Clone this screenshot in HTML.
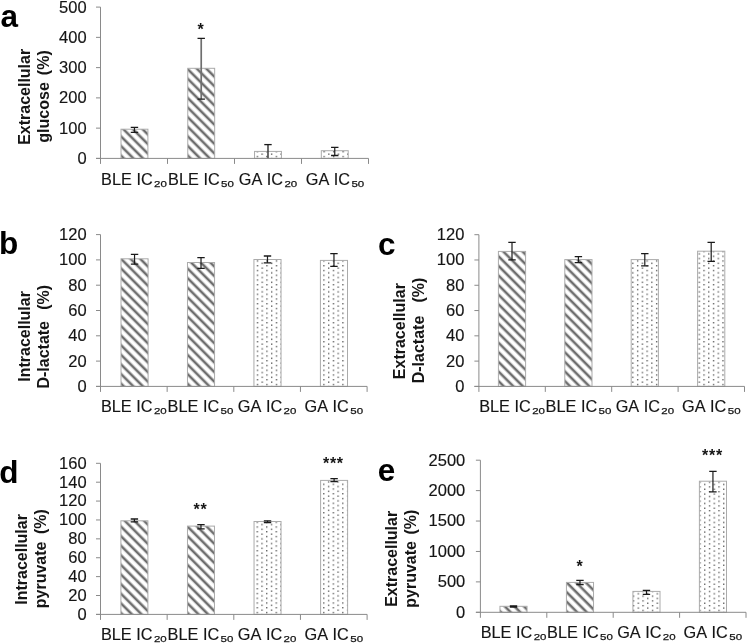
<!DOCTYPE html>
<html><head><meta charset="utf-8"><style>
html,body{margin:0;padding:0;background:#fff;width:747px;height:643px;overflow:hidden}
svg{display:block;filter:blur(0.3px)}
text{font-family:"Liberation Sans",sans-serif;fill:#151515;font-kerning:none}
.t{font-size:16.3px;stroke:#151515;stroke-width:0.15px}
.tl{font-size:16.5px;stroke:#151515;stroke-width:0.15px}
.sub{font-size:9.8px;stroke:#151515;stroke-width:0.25px}
.an{font-size:16px;font-weight:bold;letter-spacing:0.7px}
.yl{font-size:16px;font-weight:bold}
.pl{font-size:31.5px;font-weight:bold;fill:#000}
</style></head><body>
<svg width="747" height="643" viewBox="0 0 747 643">
<defs>
<pattern id="ha0" patternUnits="userSpaceOnUse" width="6.788" height="6.788" patternTransform="translate(121,158.4) rotate(-45)"><rect x="0.68" y="-1" width="2.6" height="8.788" fill="#6e6e6e"/><rect x="7.47" y="-1" width="2.6" height="8.788" fill="#6e6e6e"/><rect x="-6.11" y="-1" width="2.6" height="8.788" fill="#6e6e6e"/></pattern>
<pattern id="ha1" patternUnits="userSpaceOnUse" width="6.788" height="6.788" patternTransform="translate(187.77,158.4) rotate(-45)"><rect x="0.68" y="-1" width="2.6" height="8.788" fill="#6e6e6e"/><rect x="7.47" y="-1" width="2.6" height="8.788" fill="#6e6e6e"/><rect x="-6.11" y="-1" width="2.6" height="8.788" fill="#6e6e6e"/></pattern>
<pattern id="da2" patternUnits="userSpaceOnUse" width="9.5" height="4.75" patternTransform="translate(256.66,155.82)"><rect x="0" y="0" width="1.35" height="1.35" fill="#5a5a5a"/><rect x="4.75" y="-2.38" width="1.35" height="1.35" fill="#5a5a5a"/><rect x="4.75" y="2.38" width="1.35" height="1.35" fill="#5a5a5a"/></pattern>
<pattern id="da3" patternUnits="userSpaceOnUse" width="9.5" height="4.75" patternTransform="translate(323.44,155.82)"><rect x="0" y="0" width="1.35" height="1.35" fill="#5a5a5a"/><rect x="4.75" y="-2.38" width="1.35" height="1.35" fill="#5a5a5a"/><rect x="4.75" y="2.38" width="1.35" height="1.35" fill="#5a5a5a"/></pattern>
<pattern id="hb0" patternUnits="userSpaceOnUse" width="6.788" height="6.788" patternTransform="translate(121,386.4) rotate(-45)"><rect x="0.68" y="-1" width="2.6" height="8.788" fill="#6e6e6e"/><rect x="7.47" y="-1" width="2.6" height="8.788" fill="#6e6e6e"/><rect x="-6.11" y="-1" width="2.6" height="8.788" fill="#6e6e6e"/></pattern>
<pattern id="hb1" patternUnits="userSpaceOnUse" width="6.788" height="6.788" patternTransform="translate(187.47,386.4) rotate(-45)"><rect x="0.68" y="-1" width="2.6" height="8.788" fill="#6e6e6e"/><rect x="7.47" y="-1" width="2.6" height="8.788" fill="#6e6e6e"/><rect x="-6.11" y="-1" width="2.6" height="8.788" fill="#6e6e6e"/></pattern>
<pattern id="db2" patternUnits="userSpaceOnUse" width="9.5" height="4.75" patternTransform="translate(256.76,383.82)"><rect x="0" y="0" width="1.35" height="1.35" fill="#5a5a5a"/><rect x="4.75" y="-2.38" width="1.35" height="1.35" fill="#5a5a5a"/><rect x="4.75" y="2.38" width="1.35" height="1.35" fill="#5a5a5a"/></pattern>
<pattern id="db3" patternUnits="userSpaceOnUse" width="9.5" height="4.75" patternTransform="translate(323.23,383.82)"><rect x="0" y="0" width="1.35" height="1.35" fill="#5a5a5a"/><rect x="4.75" y="-2.38" width="1.35" height="1.35" fill="#5a5a5a"/><rect x="4.75" y="2.38" width="1.35" height="1.35" fill="#5a5a5a"/></pattern>
<pattern id="hc0" patternUnits="userSpaceOnUse" width="6.788" height="6.788" patternTransform="translate(498.4,386.4) rotate(-45)"><rect x="2.52" y="-1" width="2.6" height="8.788" fill="#6e6e6e"/><rect x="9.31" y="-1" width="2.6" height="8.788" fill="#6e6e6e"/><rect x="-4.27" y="-1" width="2.6" height="8.788" fill="#6e6e6e"/></pattern>
<pattern id="hc1" patternUnits="userSpaceOnUse" width="6.788" height="6.788" patternTransform="translate(564.8,386.4) rotate(-45)"><rect x="2.52" y="-1" width="2.6" height="8.788" fill="#6e6e6e"/><rect x="9.31" y="-1" width="2.6" height="8.788" fill="#6e6e6e"/><rect x="-4.27" y="-1" width="2.6" height="8.788" fill="#6e6e6e"/></pattern>
<pattern id="dc2" patternUnits="userSpaceOnUse" width="9.5" height="4.75" patternTransform="translate(636.93,383.82)"><rect x="0" y="0" width="1.35" height="1.35" fill="#5a5a5a"/><rect x="4.75" y="-2.38" width="1.35" height="1.35" fill="#5a5a5a"/><rect x="4.75" y="2.38" width="1.35" height="1.35" fill="#5a5a5a"/></pattern>
<pattern id="dc3" patternUnits="userSpaceOnUse" width="9.5" height="4.75" patternTransform="translate(703.33,383.82)"><rect x="0" y="0" width="1.35" height="1.35" fill="#5a5a5a"/><rect x="4.75" y="-2.38" width="1.35" height="1.35" fill="#5a5a5a"/><rect x="4.75" y="2.38" width="1.35" height="1.35" fill="#5a5a5a"/></pattern>
<pattern id="hd0" patternUnits="userSpaceOnUse" width="6.788" height="6.788" patternTransform="translate(120.9,614.4) rotate(-45)"><rect x="-0.24" y="-1" width="2.6" height="8.788" fill="#6e6e6e"/><rect x="6.55" y="-1" width="2.6" height="8.788" fill="#6e6e6e"/><rect x="-7.03" y="-1" width="2.6" height="8.788" fill="#6e6e6e"/></pattern>
<pattern id="hd1" patternUnits="userSpaceOnUse" width="6.788" height="6.788" patternTransform="translate(187.47,614.4) rotate(-45)"><rect x="-0.24" y="-1" width="2.6" height="8.788" fill="#6e6e6e"/><rect x="6.55" y="-1" width="2.6" height="8.788" fill="#6e6e6e"/><rect x="-7.03" y="-1" width="2.6" height="8.788" fill="#6e6e6e"/></pattern>
<pattern id="dd2" patternUnits="userSpaceOnUse" width="9.5" height="4.75" patternTransform="translate(256.56,611.83)"><rect x="0" y="0" width="1.35" height="1.35" fill="#5a5a5a"/><rect x="4.75" y="-2.38" width="1.35" height="1.35" fill="#5a5a5a"/><rect x="4.75" y="2.38" width="1.35" height="1.35" fill="#5a5a5a"/></pattern>
<pattern id="dd3" patternUnits="userSpaceOnUse" width="9.5" height="4.75" patternTransform="translate(323.13,611.83)"><rect x="0" y="0" width="1.35" height="1.35" fill="#5a5a5a"/><rect x="4.75" y="-2.38" width="1.35" height="1.35" fill="#5a5a5a"/><rect x="4.75" y="2.38" width="1.35" height="1.35" fill="#5a5a5a"/></pattern>
<pattern id="he0" patternUnits="userSpaceOnUse" width="6.788" height="6.788" patternTransform="translate(499.95,612.3) rotate(-45)"><rect x="-0.45" y="-1" width="2.6" height="8.788" fill="#6e6e6e"/><rect x="6.34" y="-1" width="2.6" height="8.788" fill="#6e6e6e"/><rect x="-7.24" y="-1" width="2.6" height="8.788" fill="#6e6e6e"/></pattern>
<pattern id="he1" patternUnits="userSpaceOnUse" width="6.788" height="6.788" patternTransform="translate(566.43,612.3) rotate(-45)"><rect x="-0.45" y="-1" width="2.6" height="8.788" fill="#6e6e6e"/><rect x="6.34" y="-1" width="2.6" height="8.788" fill="#6e6e6e"/><rect x="-7.24" y="-1" width="2.6" height="8.788" fill="#6e6e6e"/></pattern>
<pattern id="de2" patternUnits="userSpaceOnUse" width="9.5" height="4.75" patternTransform="translate(632.84,609.73)"><rect x="0" y="0" width="1.35" height="1.35" fill="#5a5a5a"/><rect x="4.75" y="-2.38" width="1.35" height="1.35" fill="#5a5a5a"/><rect x="4.75" y="2.38" width="1.35" height="1.35" fill="#5a5a5a"/></pattern>
<pattern id="de3" patternUnits="userSpaceOnUse" width="9.5" height="4.75" patternTransform="translate(699.32,609.73)"><rect x="0" y="0" width="1.35" height="1.35" fill="#5a5a5a"/><rect x="4.75" y="-2.38" width="1.35" height="1.35" fill="#5a5a5a"/><rect x="4.75" y="2.38" width="1.35" height="1.35" fill="#5a5a5a"/></pattern>
</defs>
<rect width="747" height="643" fill="#fff"/>
<rect x="121" y="129.2" width="26.9" height="29.2" fill="url(#ha0)" stroke="#ababab" stroke-width="1"/>
<path d="M134.45 127.3V132.4" stroke="#1a1a1a" stroke-width="1.2" fill="none"/>
<path d="M130.75 127.3H138.15M130.75 132.4H138.15" stroke="#1a1a1a" stroke-width="1.3" fill="none"/>
<rect x="187.77" y="68.3" width="26.9" height="90.1" fill="url(#ha1)" stroke="#ababab" stroke-width="1"/>
<path d="M201.22 38.4V99.1" stroke="#6e6e6e" stroke-width="1.7" fill="none"/>
<path d="M197.52 38.4H204.92M197.52 99.1H204.92" stroke="#1a1a1a" stroke-width="1.3" fill="none"/>
<rect x="254.54" y="151.4" width="26.9" height="7" fill="url(#da2)" stroke="#ababab" stroke-width="1"/>
<path d="M267.99 144.6V158.4" stroke="#3a3a3a" stroke-width="1.5" fill="none"/>
<path d="M264.29 144.6H271.69" stroke="#1a1a1a" stroke-width="1.3" fill="none"/>
<rect x="321.31" y="150.7" width="26.9" height="7.7" fill="url(#da3)" stroke="#ababab" stroke-width="1"/>
<path d="M334.76 147.3V155.5" stroke="#1a1a1a" stroke-width="1.2" fill="none"/>
<path d="M331.06 147.3H338.46M331.06 155.5H338.46" stroke="#1a1a1a" stroke-width="1.3" fill="none"/>
<path d="M100.5 7.1V163.9M96 158.4H368.5M96 158.4H100.5M96 128.14H100.5M96 97.88H100.5M96 67.62H100.5M96 37.36H100.5M96 7.1H100.5M167.5 158.4V163.9M234.5 158.4V163.9M301.5 158.4V163.9M368.5 158.4V163.9" stroke="#8a8a8a" stroke-width="1" fill="none"/>
<text x="86.6" y="163.8" text-anchor="end" class="tl">0</text>
<text x="86.6" y="133.54" text-anchor="end" class="tl">100</text>
<text x="86.6" y="103.28" text-anchor="end" class="tl">200</text>
<text x="86.6" y="73.02" text-anchor="end" class="tl">300</text>
<text x="86.6" y="42.76" text-anchor="end" class="tl">400</text>
<text x="86.6" y="12.5" text-anchor="end" class="tl">500</text>
<text x="134" y="184.5" text-anchor="middle" class="t">BLE IC<tspan class="sub" dx="1.4" dy="2" textLength="12.8" lengthAdjust="spacingAndGlyphs">20</tspan></text>
<text x="201" y="184.5" text-anchor="middle" class="t">BLE IC<tspan class="sub" dx="1.4" dy="2" textLength="12.8" lengthAdjust="spacingAndGlyphs">50</tspan></text>
<text x="268" y="184.5" text-anchor="middle" class="t">GA IC<tspan class="sub" dx="1.4" dy="2" textLength="12.8" lengthAdjust="spacingAndGlyphs">20</tspan></text>
<text x="335" y="184.5" text-anchor="middle" class="t">GA IC<tspan class="sub" dx="1.4" dy="2" textLength="12.8" lengthAdjust="spacingAndGlyphs">50</tspan></text>
<text x="200.9" y="34.75" text-anchor="middle" class="an">*</text>
<text transform="translate(30.2,144.87) rotate(-90)" class="yl">Extracellular</text>
<text transform="translate(49.2,142.66) rotate(-90)" class="yl">glucose<tspan dx="7.05">(%)</tspan></text>
<text x="0.4" y="26.9" class="pl">a</text>
<rect x="121" y="258.8" width="27.1" height="127.6" fill="url(#hb0)" stroke="#ababab" stroke-width="1"/>
<path d="M134.55 254.3V264.2" stroke="#1a1a1a" stroke-width="1.2" fill="none"/>
<path d="M130.85 254.3H138.25M130.85 264.2H138.25" stroke="#1a1a1a" stroke-width="1.3" fill="none"/>
<rect x="187.47" y="262.5" width="27.1" height="123.9" fill="url(#hb1)" stroke="#ababab" stroke-width="1"/>
<path d="M201.02 257.6V268.4" stroke="#1a1a1a" stroke-width="1.2" fill="none"/>
<path d="M197.32 257.6H204.72M197.32 268.4H204.72" stroke="#1a1a1a" stroke-width="1.3" fill="none"/>
<rect x="253.94" y="259.5" width="27.1" height="126.9" fill="url(#db2)" stroke="#ababab" stroke-width="1"/>
<path d="M267.49 256V262.8" stroke="#1a1a1a" stroke-width="1.2" fill="none"/>
<path d="M263.79 256H271.19M263.79 262.8H271.19" stroke="#1a1a1a" stroke-width="1.3" fill="none"/>
<rect x="320.41" y="260.4" width="27.1" height="126" fill="url(#db3)" stroke="#ababab" stroke-width="1"/>
<path d="M333.96 253.6V266.3" stroke="#1a1a1a" stroke-width="1.2" fill="none"/>
<path d="M330.26 253.6H337.66M330.26 266.3H337.66" stroke="#1a1a1a" stroke-width="1.3" fill="none"/>
<path d="M100.5 234.6V391.9M96 386.4H367.1M96 386.4H100.5M96 361.1H100.5M96 335.8H100.5M96 310.5H100.5M96 285.2H100.5M96 259.9H100.5M96 234.6H100.5M167.15 386.4V391.9M233.8 386.4V391.9M300.45 386.4V391.9M367.1 386.4V391.9" stroke="#8a8a8a" stroke-width="1" fill="none"/>
<text x="86.6" y="391.8" text-anchor="end" class="tl">0</text>
<text x="86.6" y="366.5" text-anchor="end" class="tl">20</text>
<text x="86.6" y="341.2" text-anchor="end" class="tl">40</text>
<text x="86.6" y="315.9" text-anchor="end" class="tl">60</text>
<text x="86.6" y="290.6" text-anchor="end" class="tl">80</text>
<text x="86.6" y="265.3" text-anchor="end" class="tl">100</text>
<text x="86.6" y="240" text-anchor="end" class="tl">120</text>
<text x="133.82" y="412.1" text-anchor="middle" class="t">BLE IC<tspan class="sub" dx="1.4" dy="2" textLength="12.8" lengthAdjust="spacingAndGlyphs">20</tspan></text>
<text x="200.48" y="412.1" text-anchor="middle" class="t">BLE IC<tspan class="sub" dx="1.4" dy="2" textLength="12.8" lengthAdjust="spacingAndGlyphs">50</tspan></text>
<text x="267.12" y="412.1" text-anchor="middle" class="t">GA IC<tspan class="sub" dx="1.4" dy="2" textLength="12.8" lengthAdjust="spacingAndGlyphs">20</tspan></text>
<text x="333.78" y="412.1" text-anchor="middle" class="t">GA IC<tspan class="sub" dx="1.4" dy="2" textLength="12.8" lengthAdjust="spacingAndGlyphs">50</tspan></text>
<text transform="translate(30,381.77) rotate(-90)" class="yl">Intracellular</text>
<text transform="translate(48.8,388.57) rotate(-90)" class="yl">D-lactate<tspan dx="11.15">(%)</tspan></text>
<text x="-1" y="254.3" class="pl">b</text>
<rect x="498.4" y="251.4" width="27.2" height="135" fill="url(#hc0)" stroke="#ababab" stroke-width="1"/>
<path d="M512 242.3V259.9" stroke="#1a1a1a" stroke-width="1.2" fill="none"/>
<path d="M508.3 242.3H515.7M508.3 259.9H515.7" stroke="#1a1a1a" stroke-width="1.3" fill="none"/>
<rect x="564.8" y="259.6" width="27.2" height="126.8" fill="url(#hc1)" stroke="#ababab" stroke-width="1"/>
<path d="M578.4 256.7V262.7" stroke="#1a1a1a" stroke-width="1.2" fill="none"/>
<path d="M574.7 256.7H582.1M574.7 262.7H582.1" stroke="#1a1a1a" stroke-width="1.3" fill="none"/>
<rect x="631.2" y="259.6" width="27.2" height="126.8" fill="url(#dc2)" stroke="#ababab" stroke-width="1"/>
<path d="M644.8 253.6V265.8" stroke="#1a1a1a" stroke-width="1.2" fill="none"/>
<path d="M641.1 253.6H648.5M641.1 265.8H648.5" stroke="#1a1a1a" stroke-width="1.3" fill="none"/>
<rect x="697.6" y="251.2" width="27.2" height="135.2" fill="url(#dc3)" stroke="#ababab" stroke-width="1"/>
<path d="M711.2 242.3V261.3" stroke="#1a1a1a" stroke-width="1.2" fill="none"/>
<path d="M707.5 242.3H714.9M707.5 261.3H714.9" stroke="#1a1a1a" stroke-width="1.3" fill="none"/>
<path d="M478.9 234.7V391.9M474.4 386.4H744.5M474.4 386.4H478.9M474.4 361.12H478.9M474.4 335.83H478.9M474.4 310.55H478.9M474.4 285.27H478.9M474.4 259.98H478.9M474.4 234.7H478.9M545.3 386.4V391.9M611.7 386.4V391.9M678.1 386.4V391.9M744.5 386.4V391.9" stroke="#8a8a8a" stroke-width="1" fill="none"/>
<text x="464.4" y="391.8" text-anchor="end" class="tl">0</text>
<text x="464.4" y="366.52" text-anchor="end" class="tl">20</text>
<text x="464.4" y="341.23" text-anchor="end" class="tl">40</text>
<text x="464.4" y="315.95" text-anchor="end" class="tl">60</text>
<text x="464.4" y="290.67" text-anchor="end" class="tl">80</text>
<text x="464.4" y="265.38" text-anchor="end" class="tl">100</text>
<text x="464.4" y="240.1" text-anchor="end" class="tl">120</text>
<text x="512.1" y="412.1" text-anchor="middle" class="t">BLE IC<tspan class="sub" dx="1.4" dy="2" textLength="12.8" lengthAdjust="spacingAndGlyphs">20</tspan></text>
<text x="578.5" y="412.1" text-anchor="middle" class="t">BLE IC<tspan class="sub" dx="1.4" dy="2" textLength="12.8" lengthAdjust="spacingAndGlyphs">50</tspan></text>
<text x="644.9" y="412.1" text-anchor="middle" class="t">GA IC<tspan class="sub" dx="1.4" dy="2" textLength="12.8" lengthAdjust="spacingAndGlyphs">20</tspan></text>
<text x="711.3" y="412.1" text-anchor="middle" class="t">GA IC<tspan class="sub" dx="1.4" dy="2" textLength="12.8" lengthAdjust="spacingAndGlyphs">50</tspan></text>
<text transform="translate(404.7,379.17) rotate(-90)" class="yl">Extracellular</text>
<text transform="translate(424.1,383.27) rotate(-90)" class="yl">D-lactate<tspan dx="13.15">(%)</tspan></text>
<text x="378" y="255.3" class="pl">c</text>
<rect x="120.9" y="520.8" width="27" height="93.6" fill="url(#hd0)" stroke="#ababab" stroke-width="1"/>
<path d="M134.4 519V521.8" stroke="#1a1a1a" stroke-width="1.2" fill="none"/>
<path d="M130.7 519H138.1M130.7 521.8H138.1" stroke="#1a1a1a" stroke-width="1.3" fill="none"/>
<rect x="187.47" y="526.1" width="27" height="88.3" fill="url(#hd1)" stroke="#ababab" stroke-width="1"/>
<path d="M200.97 524.6V528.8" stroke="#1a1a1a" stroke-width="1.2" fill="none"/>
<path d="M197.27 524.6H204.67M197.27 528.8H204.67" stroke="#1a1a1a" stroke-width="1.3" fill="none"/>
<rect x="254.04" y="521.5" width="27" height="92.9" fill="url(#dd2)" stroke="#ababab" stroke-width="1"/>
<path d="M267.54 520.8V522.6" stroke="#1a1a1a" stroke-width="1.2" fill="none"/>
<path d="M263.84 520.8H271.24M263.84 522.6H271.24" stroke="#1a1a1a" stroke-width="1.3" fill="none"/>
<rect x="320.61" y="480.4" width="27" height="134" fill="url(#dd3)" stroke="#ababab" stroke-width="1"/>
<path d="M334.11 478.6V481.6" stroke="#1a1a1a" stroke-width="1.2" fill="none"/>
<path d="M330.41 478.6H337.81M330.41 481.6H337.81" stroke="#1a1a1a" stroke-width="1.3" fill="none"/>
<path d="M100.5 463.3V619.9M96 614.4H367.1M96 614.4H100.5M96 595.51H100.5M96 576.62H100.5M96 557.74H100.5M96 538.85H100.5M96 519.96H100.5M96 501.07H100.5M96 482.19H100.5M96 463.3H100.5M167.15 614.4V619.9M233.8 614.4V619.9M300.45 614.4V619.9M367.1 614.4V619.9" stroke="#8a8a8a" stroke-width="1" fill="none"/>
<text x="86.6" y="619.8" text-anchor="end" class="tl">0</text>
<text x="86.6" y="600.91" text-anchor="end" class="tl">20</text>
<text x="86.6" y="582.02" text-anchor="end" class="tl">40</text>
<text x="86.6" y="563.14" text-anchor="end" class="tl">60</text>
<text x="86.6" y="544.25" text-anchor="end" class="tl">80</text>
<text x="86.6" y="525.36" text-anchor="end" class="tl">100</text>
<text x="86.6" y="506.47" text-anchor="end" class="tl">120</text>
<text x="86.6" y="487.59" text-anchor="end" class="tl">140</text>
<text x="86.6" y="468.7" text-anchor="end" class="tl">160</text>
<text x="133.82" y="640.1" text-anchor="middle" class="t">BLE IC<tspan class="sub" dx="1.4" dy="2" textLength="12.8" lengthAdjust="spacingAndGlyphs">20</tspan></text>
<text x="200.48" y="640.1" text-anchor="middle" class="t">BLE IC<tspan class="sub" dx="1.4" dy="2" textLength="12.8" lengthAdjust="spacingAndGlyphs">50</tspan></text>
<text x="267.12" y="640.1" text-anchor="middle" class="t">GA IC<tspan class="sub" dx="1.4" dy="2" textLength="12.8" lengthAdjust="spacingAndGlyphs">20</tspan></text>
<text x="333.78" y="640.1" text-anchor="middle" class="t">GA IC<tspan class="sub" dx="1.4" dy="2" textLength="12.8" lengthAdjust="spacingAndGlyphs">50</tspan></text>
<text x="200.45" y="515" text-anchor="middle" class="an">**</text>
<text x="333.4" y="469.2" text-anchor="middle" class="an">***</text>
<text transform="translate(27.1,604.77) rotate(-90)" class="yl">Intracellular</text>
<text transform="translate(45.8,608.25) rotate(-90)" class="yl">pyruvate<tspan dx="7.55">(%)</tspan></text>
<text x="-0.8" y="482.6" class="pl">d</text>
<rect x="499.95" y="606.3" width="27.1" height="6" fill="url(#he0)" stroke="#ababab" stroke-width="1"/>
<path d="M513.5 605.9V607" stroke="#1a1a1a" stroke-width="1.2" fill="none"/>
<path d="M509.8 605.9H517.2M509.8 607H517.2" stroke="#1a1a1a" stroke-width="1.3" fill="none"/>
<rect x="566.43" y="582.4" width="27.1" height="29.9" fill="url(#he1)" stroke="#ababab" stroke-width="1"/>
<path d="M579.98 580.3V584.5" stroke="#1a1a1a" stroke-width="1.2" fill="none"/>
<path d="M576.28 580.3H583.68M576.28 584.5H583.68" stroke="#1a1a1a" stroke-width="1.3" fill="none"/>
<rect x="632.91" y="591.4" width="27.1" height="20.9" fill="url(#de2)" stroke="#ababab" stroke-width="1"/>
<path d="M646.46 590.4V594.3" stroke="#1a1a1a" stroke-width="1.2" fill="none"/>
<path d="M642.76 590.4H650.16M642.76 594.3H650.16" stroke="#1a1a1a" stroke-width="1.3" fill="none"/>
<rect x="699.39" y="481.2" width="27.1" height="131.1" fill="url(#de3)" stroke="#ababab" stroke-width="1"/>
<path d="M712.94 471.3V491.9" stroke="#1a1a1a" stroke-width="1.2" fill="none"/>
<path d="M709.24 471.3H716.64M709.24 491.9H716.64" stroke="#1a1a1a" stroke-width="1.3" fill="none"/>
<path d="M480.4 460.2V617.8M475.9 612.3H746M475.9 612.3H480.4M475.9 581.88H480.4M475.9 551.46H480.4M475.9 521.04H480.4M475.9 490.62H480.4M475.9 460.2H480.4M546.8 612.3V617.8M613.2 612.3V617.8M679.6 612.3V617.8M746 612.3V617.8" stroke="#8a8a8a" stroke-width="1" fill="none"/>
<text x="465.3" y="617.7" text-anchor="end" class="tl">0</text>
<text x="465.3" y="587.28" text-anchor="end" class="tl">500</text>
<text x="465.3" y="556.86" text-anchor="end" class="tl">1000</text>
<text x="465.3" y="526.44" text-anchor="end" class="tl">1500</text>
<text x="465.3" y="496.02" text-anchor="end" class="tl">2000</text>
<text x="465.3" y="465.6" text-anchor="end" class="tl">2500</text>
<text x="513.6" y="638.3" text-anchor="middle" class="t">BLE IC<tspan class="sub" dx="1.4" dy="2" textLength="12.8" lengthAdjust="spacingAndGlyphs">20</tspan></text>
<text x="580" y="638.3" text-anchor="middle" class="t">BLE IC<tspan class="sub" dx="1.4" dy="2" textLength="12.8" lengthAdjust="spacingAndGlyphs">50</tspan></text>
<text x="646.4" y="638.3" text-anchor="middle" class="t">GA IC<tspan class="sub" dx="1.4" dy="2" textLength="12.8" lengthAdjust="spacingAndGlyphs">20</tspan></text>
<text x="712.8" y="638.3" text-anchor="middle" class="t">GA IC<tspan class="sub" dx="1.4" dy="2" textLength="12.8" lengthAdjust="spacingAndGlyphs">50</tspan></text>
<text x="580" y="571.6" text-anchor="middle" class="an">*</text>
<text x="712.45" y="460.9" text-anchor="middle" class="an">***</text>
<text transform="translate(397,606.87) rotate(-90)" class="yl">Extracellular</text>
<text transform="translate(416,607.75) rotate(-90)" class="yl">pyruvate<tspan dx="6.55">(%)</tspan></text>
<text x="377.7" y="480.6" class="pl">e</text>
</svg>
</body></html>
